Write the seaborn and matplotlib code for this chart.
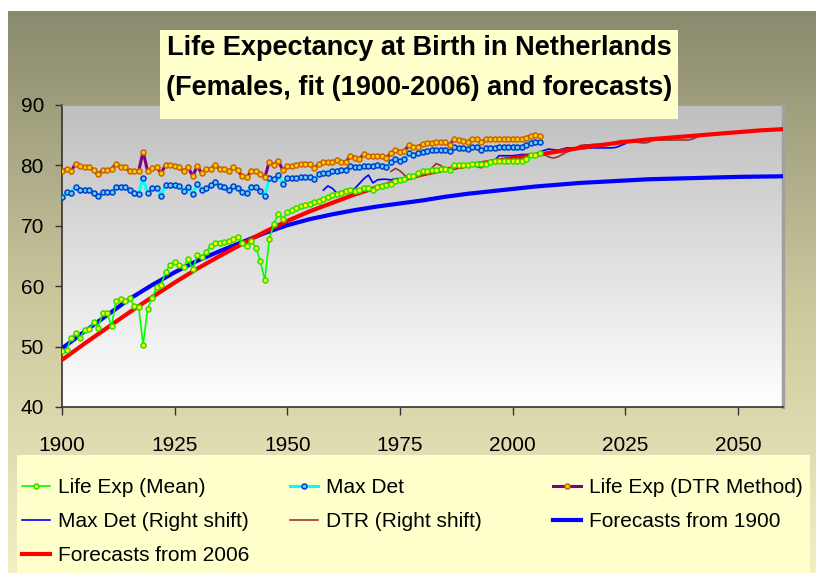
import numpy as np
import pandas as pd
import matplotlib
matplotlib.use("Agg")
import matplotlib.pyplot as plt
import seaborn as sns
from matplotlib.colors import LinearSegmentedColormap
from matplotlib.patches import Rectangle

# ---- data ----
years_obs = list(range(1900, 2007))

life_exp_mean = [
    49.2, 49.4, 51.4, 52.2, 51.4, 52.7, 52.9, 54.0, 53.1, 55.5,
    55.5, 53.4, 57.6, 57.8, 57.6, 58.0, 56.8, 56.6, 50.3, 56.3,
    58.0, 59.9, 60.2, 62.4, 63.5, 64.0, 63.5, 63.2, 64.5, 62.8,
    65.1, 64.8, 65.7, 66.7, 67.1, 67.1, 67.3, 67.5, 67.8, 68.2,
    67.1, 66.7, 67.5, 66.4, 64.2, 61.0, 67.8, 70.3, 72.0,
    71.1, 72.3, 72.6, 72.9, 73.3, 73.4, 73.6, 74.0, 74.1, 74.4,
    74.8, 75.1, 75.3, 75.4, 75.8, 75.9, 75.8, 75.9, 76.3, 76.2,
    75.9, 76.4, 76.6, 76.8, 77.0, 77.4, 77.6, 77.7, 78.2, 78.2,
    78.8, 79.0, 79.1, 79.2, 79.3, 79.4, 79.4, 79.3, 80.0, 80.0,
    80.0, 80.1, 80.2, 80.3, 80.2, 80.3, 80.5, 80.7, 80.7, 80.8,
    80.7, 80.7, 80.7, 80.8, 81.1, 81.7, 81.8, 82.0,
]

max_det = [
    74.7, 75.6, 75.5, 76.5, 75.9, 75.9, 76.0, 75.4, 74.9, 75.6,
    75.6, 75.6, 76.5, 76.4, 76.4, 75.9, 75.5, 75.3, 77.9, 75.4,
    76.2, 76.3, 75.0, 76.8, 76.8, 76.8, 76.6, 75.8, 76.5, 75.2,
    76.9, 75.9, 76.3, 76.7, 77.3, 76.6, 76.4, 75.9, 76.6, 76.2,
    75.6, 75.5, 76.5, 76.5, 75.8, 74.9, 77.9, 77.7, 78.4,
    77.0, 77.9, 77.9, 77.9, 78.0, 78.0, 78.1, 77.7, 78.6, 78.7,
    78.8, 79.0, 79.1, 79.2, 79.2, 79.9, 79.7, 79.7, 79.95, 79.9,
    79.9, 80.1, 79.95, 79.8, 80.6, 81.0, 80.8, 81.1, 82.0, 81.7,
    82.1, 82.3, 82.4, 82.5, 82.5, 82.5, 82.5, 82.4, 83.0, 82.9,
    82.8, 82.7, 83.0, 83.0, 82.5, 82.9, 82.9, 82.9, 83.1, 83.1,
    83.1, 83.1, 83.1, 83.1, 83.4, 83.7, 83.8, 83.8,
]

dtr_method = [
    79.1, 79.4, 79.0, 80.3, 79.9, 79.7, 79.8, 79.2, 78.5, 79.2,
    79.2, 79.4, 80.3, 79.7, 79.7, 79.0, 79.0, 79.0, 82.3, 79.0,
    79.5, 79.7, 78.7, 80.1, 80.1, 79.9, 79.7, 79.0, 79.7, 78.2,
    79.9, 78.7, 79.4, 79.4, 80.1, 79.4, 79.4, 79.0, 79.7, 79.2,
    78.2, 78.0, 79.1, 79.0, 78.5, 78.0, 80.6, 80.1, 80.8,
    79.2, 79.95, 79.95, 80.1, 80.2, 80.3, 80.3, 79.5, 80.3, 80.5,
    80.5, 80.5, 80.9, 80.6, 80.6, 81.6, 81.3, 81.1, 81.9, 81.6,
    81.6, 81.6, 81.6, 81.3, 82.0, 82.5, 82.3, 82.4, 83.4, 83.1,
    83.1, 83.5, 83.7, 83.7, 83.8, 83.8, 83.8, 83.4, 84.3, 84.2,
    84.1, 83.9, 84.3, 84.3, 83.8, 84.3, 84.3, 84.3, 84.3, 84.3,
    84.3, 84.3, 84.3, 84.3, 84.6, 84.9, 85.0, 84.9,
]

years_maxdet_rs = list(range(1958, 2026))
max_det_rs = [
    75.9, 76.6, 76.2, 75.4, 75.5, 76.0, 75.8, 76.2, 77.0, 77.8,
    78.4, 77.1, 77.6, 77.7, 77.7, 77.6, 77.8, 77.8, 77.9, 78.1,
    78.3, 78.5, 78.8, 79.0, 79.1, 79.2, 79.3, 79.4, 79.4, 79.4,
    80.0, 80.0, 80.0, 80.1, 80.2, 80.3, 80.3, 80.5, 80.9, 81.6,
    81.6, 81.6, 81.6, 81.7, 81.8, 81.8, 81.9, 81.9, 82.2, 82.5,
    82.7, 82.6, 82.5, 82.7, 82.9, 82.9, 82.8, 82.8, 82.8, 82.9,
    82.9, 82.9, 82.9, 82.9, 82.9, 83.0, 83.3, 83.6,
]

years_dtr_rs = list(range(1973, 2043))
dtr_rs = [
    79.0, 79.5, 79.1, 78.4, 77.8, 78.1, 78.3, 78.7, 78.9, 79.5,
    80.3, 80.0, 79.5, 79.4, 79.5, 79.6, 79.6, 79.9, 80.0, 79.8,
    79.6, 80.0, 80.3, 80.4, 80.6, 80.7, 80.8, 80.9, 81.0, 81.2,
    81.4, 81.6, 81.8, 81.9, 81.8, 81.4, 81.2, 81.4, 81.8, 82.2,
    82.5, 82.9, 83.3, 83.4, 83.4, 83.5, 83.5, 83.6, 83.6, 83.7,
    83.9, 84.1, 84.1, 84.0, 83.9, 83.8, 83.7, 83.8, 84.1, 84.2,
    84.2, 84.2, 84.2, 84.2, 84.2, 84.2, 84.2, 84.4, 84.7, 85.0,
]

years_fc = list(range(1900, 2061, 5))
fc_1900 = [
    49.7, 52.5, 55.2, 57.9, 60.2, 62.3, 64.2, 65.8, 67.3, 68.8,
    70.1, 71.1, 71.9, 72.6, 73.2, 73.7, 74.2, 74.8, 75.3, 75.7,
    76.1, 76.5, 76.8, 77.1, 77.3, 77.5, 77.7, 77.8, 77.9, 78.0,
    78.1, 78.15, 78.2,
]
fc_2006 = [
    47.8, 50.5, 53.1, 55.7, 58.2, 60.6, 62.9, 65.0, 67.0, 69.0,
    70.8, 72.4, 73.8, 75.2, 76.4, 77.5, 78.5, 79.3, 80.0, 80.6,
    81.2, 81.7, 82.3, 82.9, 83.4, 83.9, 84.3, 84.6, 84.9, 85.2,
    85.5, 85.8, 86.0,
]

# ---- figure ----
W, H = 816, 573
fig = plt.figure(figsize=(W / 100, H / 100), dpi=100)
fig.patch.set_facecolor("white")
font = ["Liberation Sans", "DejaVu Sans"]

# olive gradient background
bg = fig.add_axes([8 / W, 0, 1 - 8 / W, 1 - 11 / H], zorder=-2)
bg_cmap = LinearSegmentedColormap.from_list("olive", ["#8a8a6e", "#c9c69c", "#f3efc3"])
bg.imshow(np.linspace(0, 1, 256).reshape(-1, 1), cmap=bg_cmap, aspect="auto",
          extent=[0, 1, 0, 1])
bg.set_axis_off()

left, right, bottom, top = 62 / W, 783 / W, 1 - 407 / H, 1 - 105 / H
ax = fig.add_axes([left, bottom, right - left, top - bottom])

plot_cmap = LinearSegmentedColormap.from_list("plot", ["#ffffff", "#bfbfbf"])
ax.imshow(np.linspace(0, 1, 256).reshape(-1, 1), cmap=plot_cmap, aspect="auto",
          extent=[1900, 2060, 90, 40], zorder=0)

sns.lineplot(x=years_maxdet_rs, y=max_det_rs, ax=ax, color="#0000ff", lw=1.2,
             label="Max Det (Right shift)", zorder=2)
sns.lineplot(x=years_dtr_rs, y=dtr_rs, ax=ax, color="#993333", lw=1.2,
             label="DTR (Right shift)", zorder=2)
sns.lineplot(x=years_fc, y=fc_1900, ax=ax, color="#0000ff", lw=3,
             label="Forecasts from 1900", zorder=3)
sns.lineplot(x=years_fc, y=fc_2006, ax=ax, color="#ff0000", lw=3,
             label="Forecasts from 2006", zorder=3)
sns.lineplot(x=years_obs, y=max_det, ax=ax, color="#00ffff", lw=2.2,
             marker="o", ms=3.6, mfc="#66ccff", mec="#0040cc", mew=1.1,
             label="Max Det", zorder=4)
sns.lineplot(x=years_obs, y=dtr_method, ax=ax, color="#800080", lw=2.2,
             marker="o", ms=3.6, mfc="#ffcc00", mec="#cc6600", mew=1.1,
             label="Life Exp (DTR Method)", zorder=4)
sns.lineplot(x=years_obs, y=life_exp_mean, ax=ax, color="#00ff00", lw=1.2,
             marker="o", ms=3.6, mfc="#ffff00", mec="#33dd00", mew=1.1,
             label="Life Exp (Mean)", zorder=5)

ax.set_xlim(1900, 2060)
ax.set_ylim(40, 90)
ax.set_xticks([1900, 1925, 1950, 1975, 2000, 2025, 2050])
ax.set_yticks([40, 50, 60, 70, 80, 90])
ax.set_xlabel("")
ax.set_ylabel("")
ax.tick_params(axis="x", direction="out", length=6, width=1, pad=15,
               labelsize=15, colors="#333333", labelcolor="black")
ax.tick_params(axis="y", direction="out", length=5, width=1, pad=8,
               labelsize=15, colors="#333333", labelcolor="black")
for lab in ax.get_xticklabels() + ax.get_yticklabels():
    lab.set_family(font)
for s in ["left", "bottom"]:
    ax.spines[s].set_color("#333333")
    ax.spines[s].set_linewidth(1.2)
ax.spines["top"].set_color("#a0a0a0")
ax.spines["right"].set_color("#a0a0a0")
ax.spines["right"].set_linewidth(2.5)
ax.get_legend().remove()

# title box
fig.add_artist(Rectangle((160 / W, 1 - 119 / H), 518 / W, 89 / H,
                         transform=fig.transFigure, facecolor="#ffffcc",
                         edgecolor="none", zorder=5))
fig.text(419 / W, 1 - 48 / H, "Life Expectancy at Birth in Netherlands",
         ha="center", va="center", fontsize=19.5, fontweight="bold",
         family=font, zorder=6)
fig.text(419 / W, 1 - 88 / H, "(Females, fit (1900-2006) and forecasts)",
         ha="center", va="center", fontsize=19.5, fontweight="bold",
         family=font, zorder=6)

# legend box and three legend columns
fig.add_artist(Rectangle((17 / W, 0), 793 / W, 118 / H,
                         transform=fig.transFigure, facecolor="#ffffcc",
                         edgecolor="none", zorder=5))
handles, labels = ax.get_legend_handles_labels()
lookup = dict(zip(labels, handles))
columns = [
    (22, ["Life Exp (Mean)", "Max Det (Right shift)", "Forecasts from 2006"]),
    (290, ["Max Det", "DTR (Right shift)"]),
    (553, ["Life Exp (DTR Method)", "Forecasts from 1900"]),
]
for x0, names in columns:
    leg = fig.legend([lookup[k] for k in names], names, loc="upper left",
                     bbox_to_anchor=(x0 / W, 1 - 478 / H), borderaxespad=0,
                     borderpad=0, frameon=False, handlelength=1.35,
                     handletextpad=0.4, labelspacing=0.72,
                     prop={"family": font, "size": 15})
    leg.set_zorder(6)

fig.savefig("out.png", dpi=100)
